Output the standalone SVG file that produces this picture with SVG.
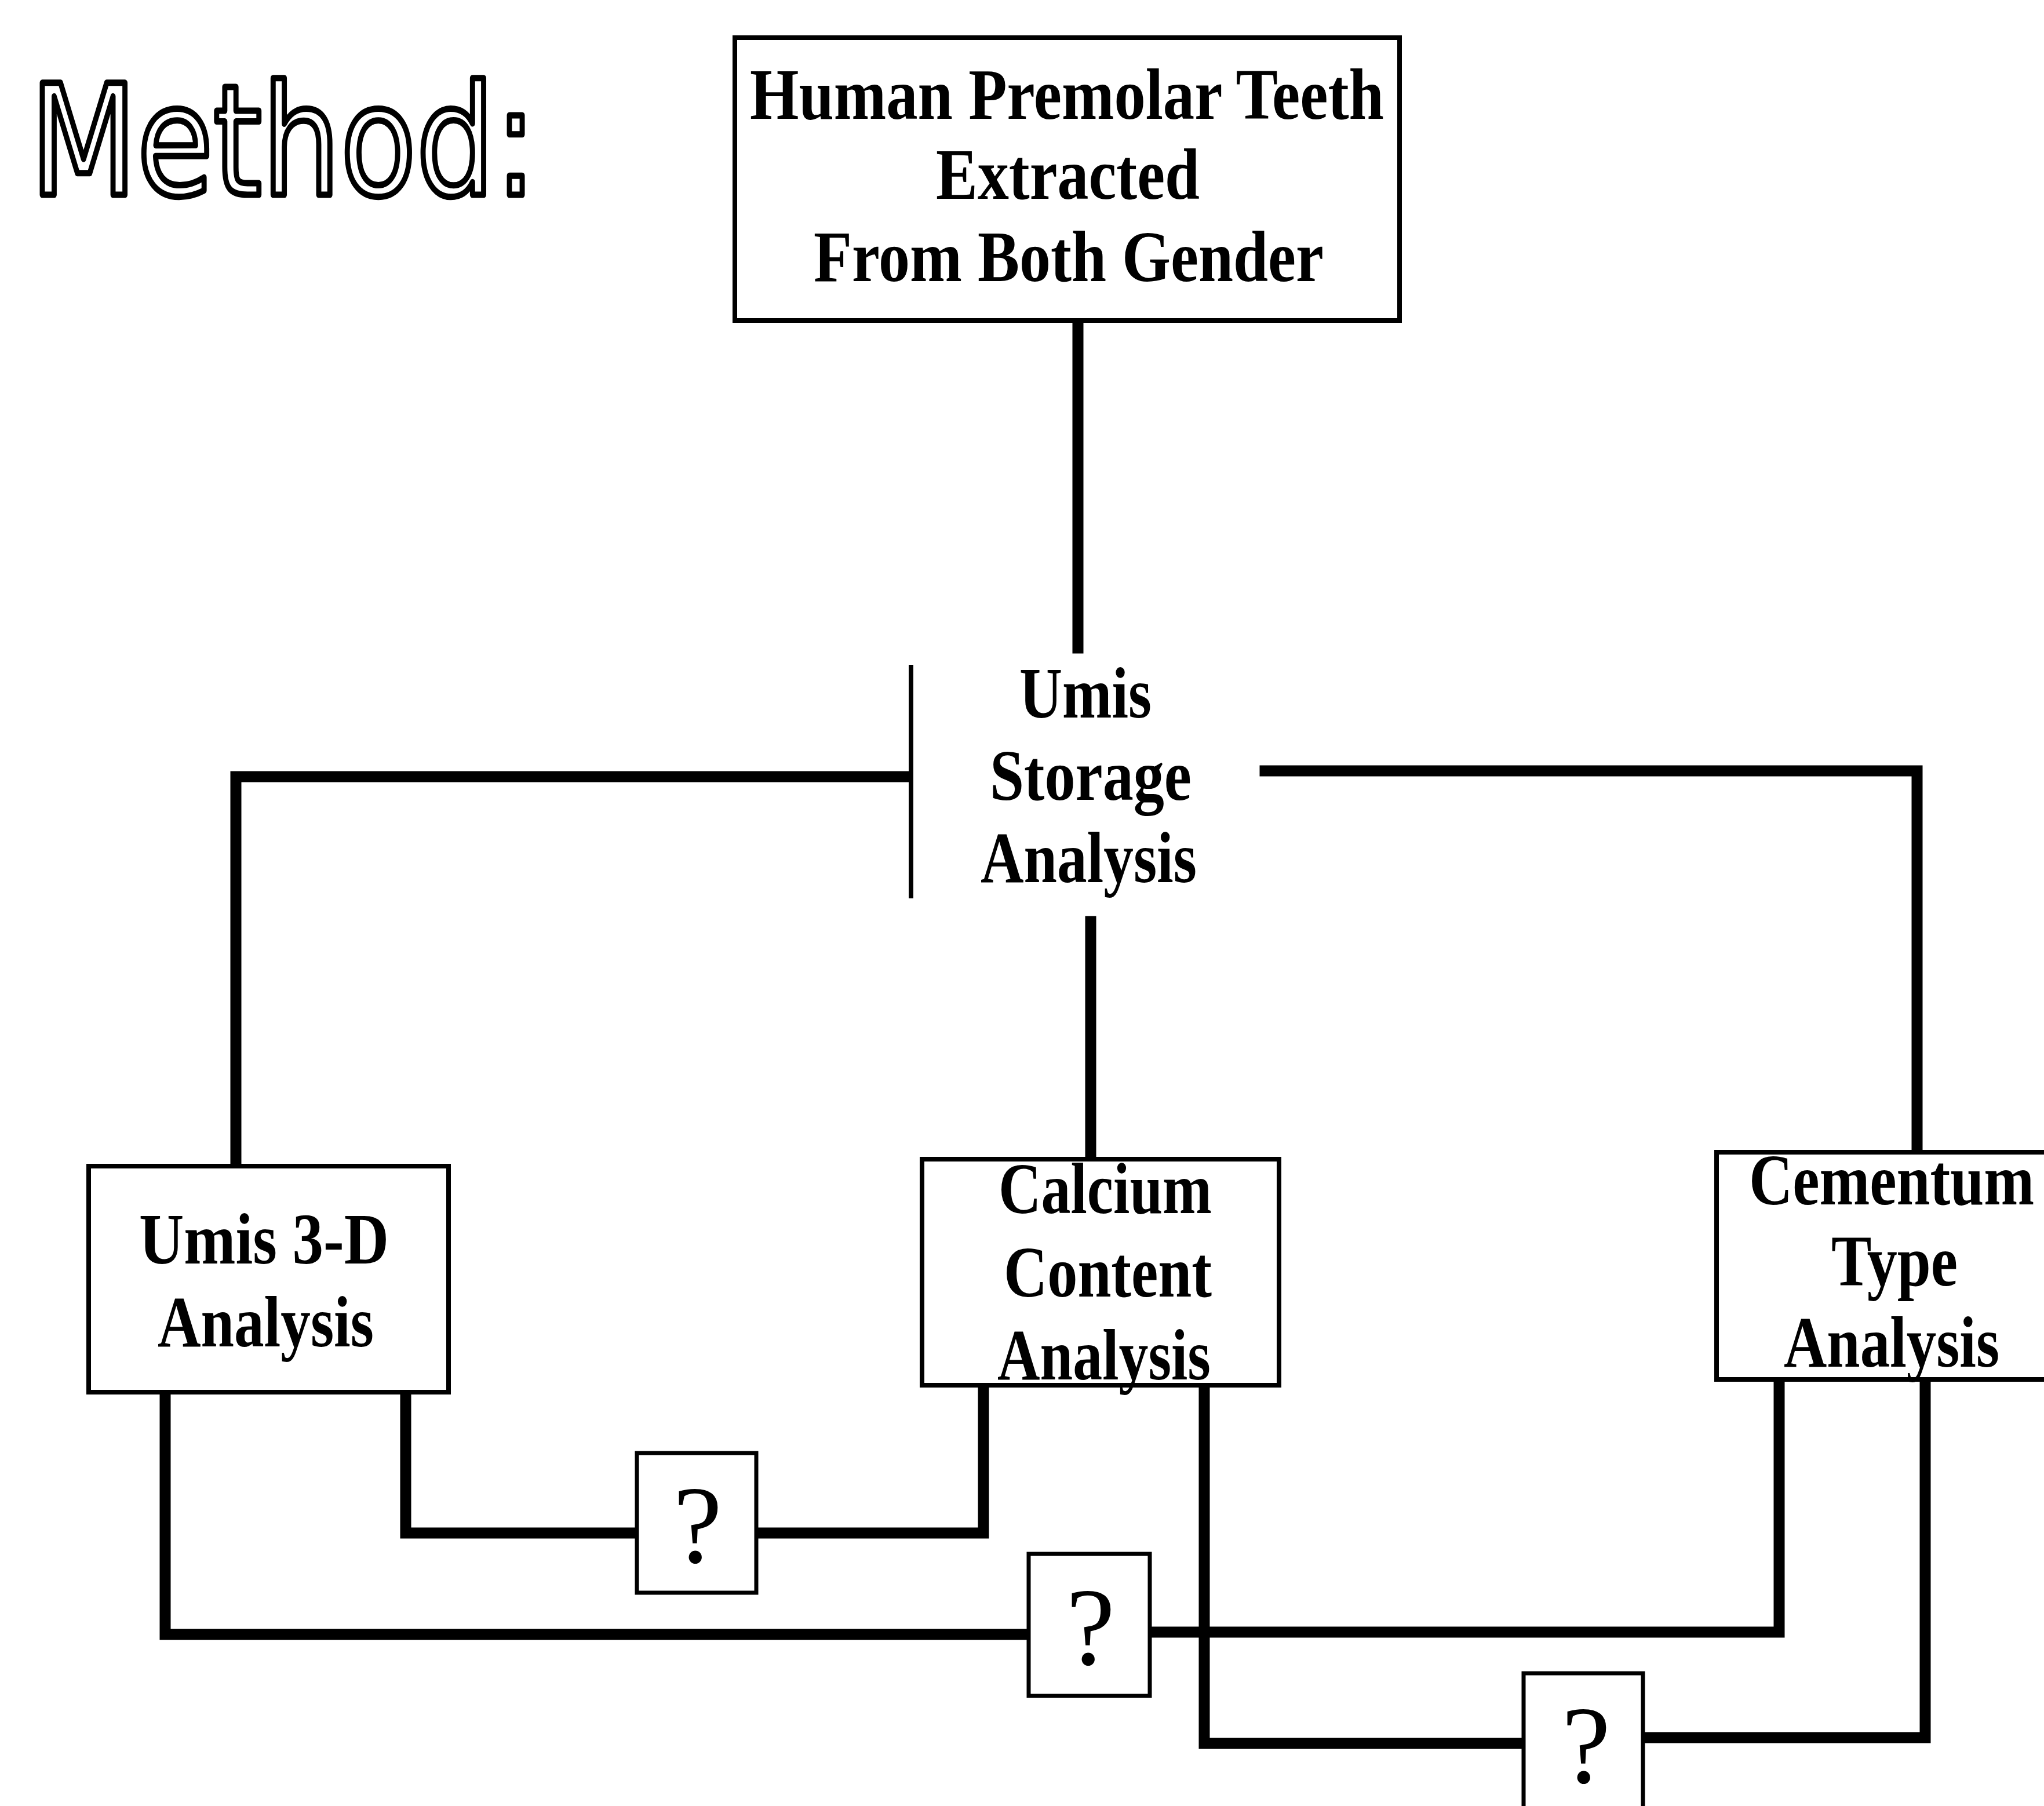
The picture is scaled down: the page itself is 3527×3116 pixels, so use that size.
<svg xmlns="http://www.w3.org/2000/svg" width="3527" height="3116" viewBox="0 0 3527 3116">
<style>
.bg{fill:#ffffff}
.box{fill:#ffffff;stroke:#000;stroke-width:8}
.qbox{fill:#ffffff;stroke:#000;stroke-width:7}
.conn{fill:none;stroke:#000;stroke-width:19;stroke-linejoin:miter;stroke-linecap:square}
.bar{stroke:#000;stroke-width:8}
.lbl{font-family:"Liberation Serif","Times New Roman",serif;font-weight:bold;font-size:124px;fill:#000}
.q{font-family:"Liberation Serif","Times New Roman",serif;font-size:190px;fill:#000;text-anchor:middle}
.title{font-family:"DejaVu Sans","Liberation Sans",sans-serif;font-size:265px;fill:#fff;stroke:#000;stroke-width:11;stroke-linejoin:round}
</style>
<rect class="bg" x="0" y="0" width="3527" height="3116"/>
<text class="title" x="52" y="336" textLength="874" lengthAdjust="spacingAndGlyphs">Method:</text>
<g id="connectors">
<path class="conn" d="M1860,553 V1118"/>
<path class="conn" d="M1562,1340 H407 V2012"/>
<path class="conn" d="M2183,1330 H3308 V1988"/>
<path class="conn" d="M1882,1590 V2000"/>
<path class="conn" d="M700,2402 V2645 H1099"/>
<path class="conn" d="M1306,2645 H1697 V2390"/>
<path class="conn" d="M285,2402 V2820 H1775"/>
<path class="conn" d="M1984,2816 H3070 V2380"/>
<path class="conn" d="M2078,2390 V3008 H2629"/>
<path class="conn" d="M2835,2998 H3322 V2380"/>
</g>
<g id="n-teeth">
<rect class="box" x="1268" y="65" width="1147" height="488"/>
<text class="lbl" x="1294" y="205" textLength="1094" lengthAdjust="spacingAndGlyphs">Human Premolar Teeth</text>
<text class="lbl" x="1615" y="343" textLength="455" lengthAdjust="spacingAndGlyphs">Extracted</text>
<text class="lbl" x="1404" y="485" textLength="880" lengthAdjust="spacingAndGlyphs">From Both Gender</text>
</g>
<g id="n-storage">
<line class="bar" x1="1572" y1="1147" x2="1572" y2="1550"/>
<text class="lbl" x="1759" y="1238" textLength="228" lengthAdjust="spacingAndGlyphs">Umis</text>
<text class="lbl" x="1708" y="1380" textLength="348" lengthAdjust="spacingAndGlyphs">Storage</text>
<text class="lbl" x="1692" y="1522" textLength="373" lengthAdjust="spacingAndGlyphs">Analysis</text>
</g>
<g id="n-3d">
<rect class="box" x="153" y="2012" width="621" height="390"/>
<text class="lbl" x="240" y="2180" textLength="431" lengthAdjust="spacingAndGlyphs">Umis 3-D</text>
<text class="lbl" x="272" y="2323" textLength="373" lengthAdjust="spacingAndGlyphs">Analysis</text>
</g>
<g id="n-calcium">
<rect class="box" x="1591" y="2000" width="616" height="390"/>
<text class="lbl" x="1723" y="2093" textLength="368" lengthAdjust="spacingAndGlyphs">Calcium</text>
<text class="lbl" x="1732" y="2237" textLength="359" lengthAdjust="spacingAndGlyphs">Content</text>
<text class="lbl" x="1721" y="2380" textLength="368" lengthAdjust="spacingAndGlyphs">Analysis</text>
</g>
<g id="n-cementum">
<rect class="box" x="2962" y="1988" width="620" height="392"/>
<text class="lbl" x="3018" y="2078" textLength="492" lengthAdjust="spacingAndGlyphs">Cementum</text>
<text class="lbl" x="3160" y="2218" textLength="218" lengthAdjust="spacingAndGlyphs">Type</text>
<text class="lbl" x="3078" y="2358" textLength="372" lengthAdjust="spacingAndGlyphs">Analysis</text>
</g>
<g id="n-q1">
<rect class="qbox" x="1099" y="2507" width="206" height="241"/>
<text class="q" x="1204" y="2695">?</text>
</g>
<g id="n-q2">
<rect class="qbox" x="1775" y="2681" width="209" height="245"/>
<text class="q" x="1882" y="2871">?</text>
</g>
<g id="n-q3">
<rect class="qbox" x="2629" y="2887" width="206" height="300"/>
<text class="q" x="2737" y="3075">?</text>
</g>
</svg>
